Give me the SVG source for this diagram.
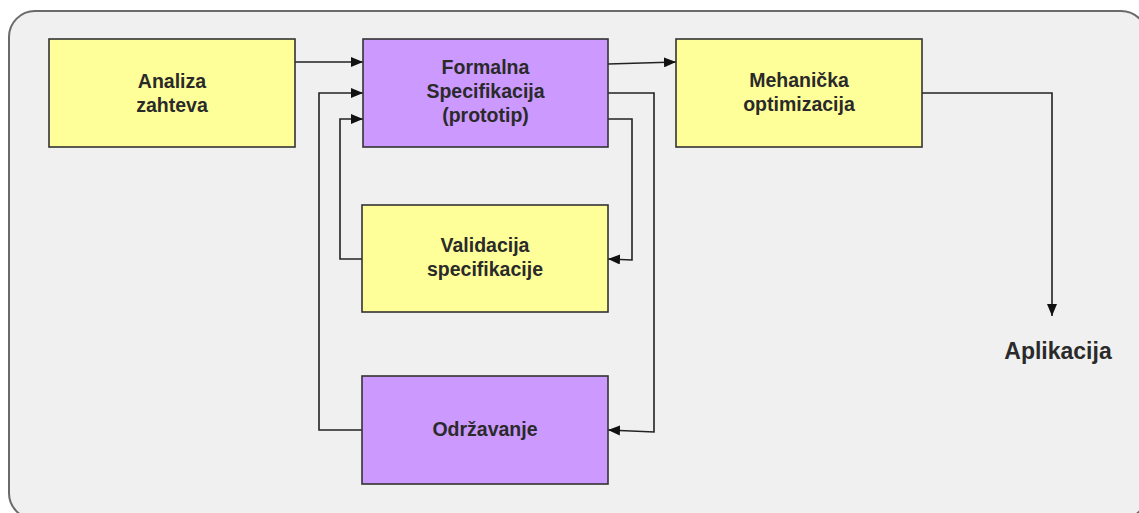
<svg xmlns="http://www.w3.org/2000/svg" width="1139" height="513" viewBox="0 0 1139 513">
  <defs>
    <marker id="arrow" viewBox="0 0 12 10" refX="12" refY="5" markerWidth="12" markerHeight="10" markerUnits="userSpaceOnUse" orient="auto">
      <path d="M0,0 L12,5 L0,10 Z" fill="#111"/>
    </marker>
    <style>
      .frame { fill: #f0f0f0; stroke: #6a6a6a; stroke-width: 2; }
      .box { stroke: #333; stroke-width: 1.6; }
      .yellow { fill: #ffff99; }
      .purple { fill: #cc99ff; }
      .label { font-family: "Liberation Sans", Arial, sans-serif; font-weight: bold; font-size: 19.5px; fill: #2a2a2a; text-anchor: middle; }
      .big { font-size: 23px; }
      .conn { fill: none; stroke: #222; stroke-width: 1.6; }
    </style>
  </defs>

  <!-- outer rounded panel -->
  <rect class="frame" x="9" y="11" width="1138" height="508" rx="26" ry="26"/>

  <g id="connectors">
    <!-- Analiza -> Formalna -->
    <path class="conn" d="M295,62 L363,62" marker-end="url(#arrow)"/>
    <!-- Formalna -> Mehanicka -->
    <path class="conn" d="M608,64 L676,62" marker-end="url(#arrow)"/>
    <!-- Formalna -> Odrzavanje -->
    <path class="conn" d="M608,93 L654,93 L654,432 L608,430" marker-end="url(#arrow)"/>
    <!-- Formalna -> Validacija -->
    <path class="conn" d="M608,119 L632,119 L632,260 L608,259" marker-end="url(#arrow)"/>
    <!-- Validacija -> Formalna -->
    <path class="conn" d="M362,259 L340,259 L340,119 L363,119" marker-end="url(#arrow)"/>
    <!-- Odrzavanje -> Formalna -->
    <path class="conn" d="M362,430 L319,430 L319,93 L363,93" marker-end="url(#arrow)"/>
    <!-- Mehanicka -> Aplikacija -->
    <path class="conn" d="M922,93 L1052,93 L1052,316" marker-end="url(#arrow)"/>
  </g>

  <g id="analiza">
    <rect class="box yellow" x="49" y="39" width="246" height="108"/>
    <text class="label" x="172" y="88">Analiza</text>
    <text class="label" x="172" y="112">zahteva</text>
  </g>

  <g id="formalna">
    <rect class="box purple" x="363" y="39" width="245" height="108"/>
    <text class="label" x="485.5" y="74">Formalna</text>
    <text class="label" x="485.5" y="98">Specifikacija</text>
    <text class="label" x="485.5" y="122">(prototip)</text>
  </g>

  <g id="mehanicka">
    <rect class="box yellow" x="676" y="39" width="246" height="108"/>
    <text class="label" x="799" y="87">Mehanička</text>
    <text class="label" x="799" y="111">optimizacija</text>
  </g>

  <g id="validacija">
    <rect class="box yellow" x="362" y="205" width="246" height="107"/>
    <text class="label" x="485" y="252">Validacija</text>
    <text class="label" x="485" y="276">specifikacije</text>
  </g>

  <g id="odrzavanje">
    <rect class="box purple" x="362" y="376" width="246" height="108"/>
    <text class="label" x="485" y="436">Održavanje</text>
  </g>

  <g id="aplikacija">
    <text class="label big" x="1058" y="359">Aplikacija</text>
  </g>
</svg>
